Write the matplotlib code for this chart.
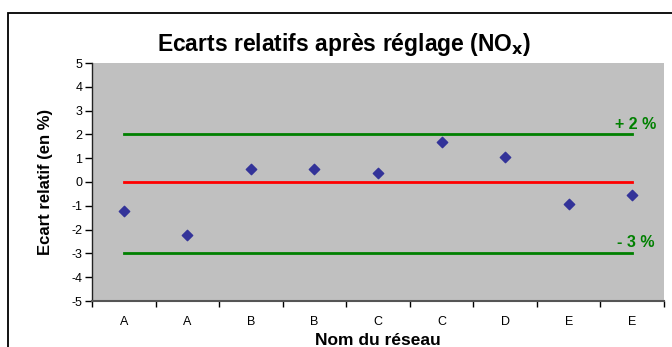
import matplotlib.pyplot as plt
from matplotlib.patches import Rectangle

plt.rcParams['font.family'] = ['Liberation Sans', 'DejaVu Sans']
plt.rcParams['axes.unicode_minus'] = False

reseaux = ['A', 'A', 'B', 'B', 'C', 'C', 'D', 'E', 'E']
ecarts = [-1.23, -2.24, 0.55, 0.55, 0.38, 1.66, 1.03, -0.91, -0.56]
limite_haute = 2
limite_basse = -3
reference = 0

fig = plt.figure(figsize=(6.72, 3.47), dpi=100)

# cadre du graphique
fig.patches.append(Rectangle((8 / 672, -0.05), 1.1, 1 - 13 / 347 + 0.05,
                             transform=fig.transFigure, fill=False,
                             edgecolor='black', lw=1.3))

ax = fig.add_axes([92 / 672, 1 - 301 / 347, 572 / 672, 238 / 347])
ax.set_facecolor('#C0C0C0')

x = list(range(len(reseaux)))
ax.plot([x[0], x[-1]], [limite_haute] * 2, color='#008000', lw=2)
ax.plot([x[0], x[-1]], [limite_basse] * 2, color='#008000', lw=2)
ax.plot([x[0], x[-1]], [reference] * 2, color='#FF0000', lw=2)
ax.scatter(x, ecarts, marker='D', s=28, color='#333399', zorder=3)

ax.text(x[-1] + 0.05, limite_haute + 0.22, '+ 2 %', color='#008000',
        fontsize=11.5, fontweight='bold', ha='center', va='baseline')
ax.text(x[-1] + 0.05, limite_basse + 0.27, '- 3 %', color='#008000',
        fontsize=11.5, fontweight='bold', ha='center', va='baseline')

ax.set_xlim(-0.5, len(reseaux) - 0.5)
ax.set_ylim(-5, 5)
ax.set_yticks(range(-5, 6))
ax.set_xticks([i - 0.5 for i in range(len(reseaux) + 1)])
ax.set_xticklabels([])
ax.set_xticks(x, minor=True)
ax.set_xticklabels(reseaux, minor=True)
ax.tick_params(axis='x', which='minor', length=0, pad=11, labelsize=9)
ax.tick_params(axis='x', which='major', length=4, direction='out', width=1)
ax.tick_params(axis='y', length=5, width=1, labelsize=9, pad=2)

for s in ['top', 'right']:
    ax.spines[s].set_visible(False)
ax.spines['left'].set_color('#222222')
ax.spines['bottom'].set_color('#555555')
ax.spines['left'].set_linewidth(1)
ax.spines['bottom'].set_linewidth(1.5)

ax.set_ylabel('Ecart relatif (en %)', fontsize=12, fontweight='bold')
ax.yaxis.set_label_coords(-0.068, 0.5)
fig.text(378 / 672, 1 - 345 / 347, 'Nom du réseau', fontsize=12.5,
         fontweight='bold', ha='center', va='baseline')

fig.text(344 / 672, 1 - 45 / 347, r'Ecarts relatifs après réglage (NO$_\mathbf{x}$)',
         fontsize=16.5, fontweight='bold', ha='center', va='center')

fig.savefig('out.png', dpi=100)
